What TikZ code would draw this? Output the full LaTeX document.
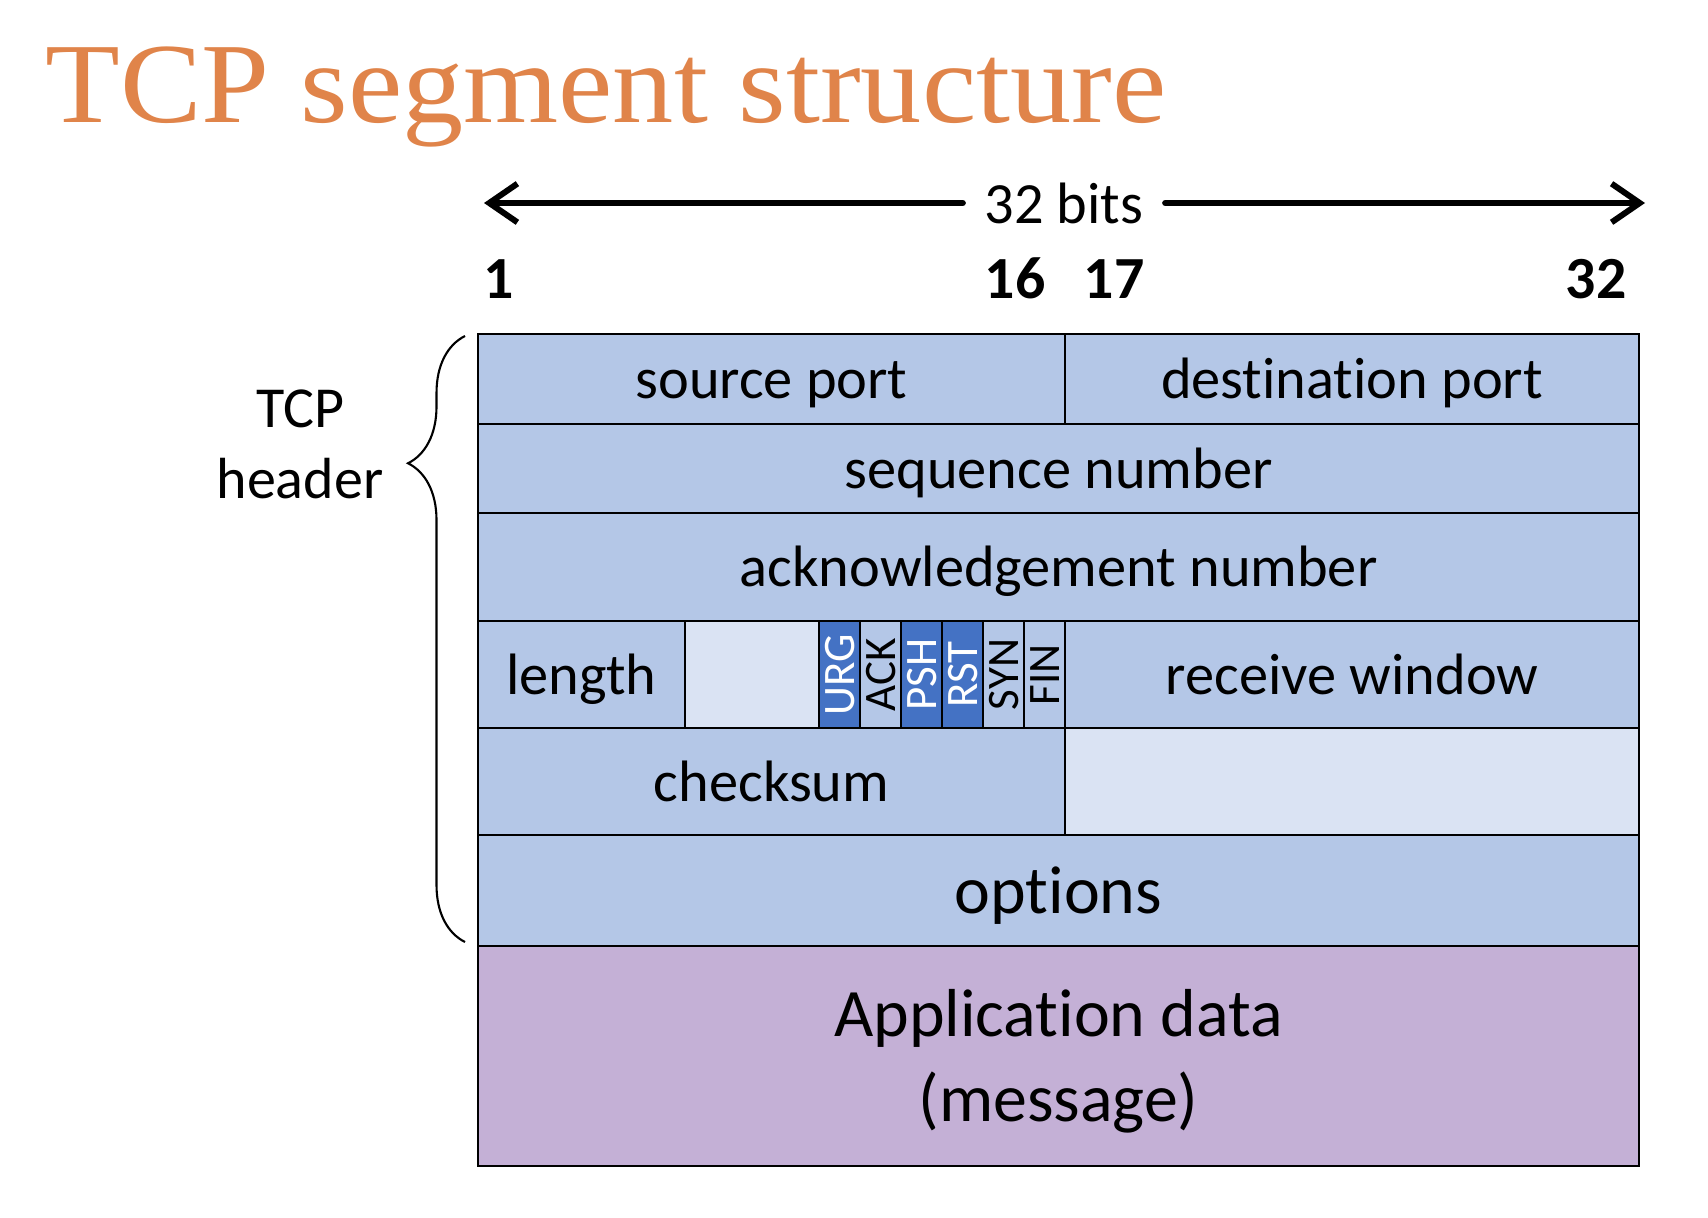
\documentclass[tikz,border=0pt]{standalone}
\usepackage{fontspec}
\setmainfont{Carlito}[Ligatures={NoCommon, NoContextual}]
\newfontfamily\titlefont{Liberation Serif}[FakeStretch=1.07]
\usetikzlibrary{positioning, arrows.meta, fit, decorations.pathreplacing}

\definecolor{cellblue}{HTML}{B4C7E7}
\definecolor{cellpale}{HTML}{DAE3F3}
\definecolor{flagblue}{HTML}{4472C4}
\definecolor{datapurple}{HTML}{C4B0D6}
\definecolor{titleorange}{HTML}{E0844A}

% strut giving the same line box as the slide text
\newcommand{\cstrut}{\rule[-0.27em]{0pt}{1.22em}}

\tikzset{
  field/.style={draw=black, line width=0.6pt, fill=cellblue, inner sep=0pt, outer sep=0pt},
  blank/.style={field, fill=cellpale},
  flagcell/.style={field, fill=#1},
  datafield/.style={field, fill=datapurple},
  celltext/.style={inner sep=0pt, font=\fontsize{16.6}{20}\selectfont, execute at begin node=\cstrut},
  flagtext/.style={inner sep=0pt, rotate=90, font=\fontsize{12.8}{15}\selectfont, execute at begin node=\cstrut},
  bittext/.style={inner sep=0pt, font=\fontsize{17}{20}\selectfont\bfseries, anchor=base},
  widtharrow/.style={line width=1.7pt, -{Straight Barb[length=8pt, width=11pt, line width=1.7pt]}, line cap=round}
}

\begin{document}
\begin{tikzpicture}[x=0.01cm, y=-0.01cm]
  \useasboundingbox (0,0) rectangle (1708,1218);

  % Title
  \node[anchor=base west, inner sep=0pt, text=titleorange, font=\titlefont\fontsize{32.5}{38}\selectfont] (title) at (45,122) {TCP segment structure};

  % 32 bits width arrow
  \node[anchor=base, inner xsep=0.21cm, inner ysep=0pt, font=\fontsize{16.6}{20}\selectfont] (bits) at (1064,223) {32 bits};
  \coordinate (bitsL) at (484,203);
  \coordinate (bitsR) at (1645,203);
  \draw[widtharrow] (bits.west |- bitsL) -- (bitsL);
  \draw[widtharrow] (bits.east |- bitsR) -- (bitsR);

  % Bit numbers
  \node[bittext] (bit1) at (499,298) {1};
  \node[bittext] (bit16) at (1015,298) {16};
  \node[bittext] (bit17) at (1114,298) {17};
  \node[bittext] (bit32) at (1596,298) {32};

  % Header rows
  \node[field, fit={(478,334) (1065,424)}, label={[celltext]center:source port}] (srcport) {};
  \node[field, fit={(1065,334) (1639,424)}, label={[celltext]center:destination port}] (dstport) {};
  \node[field, fit={(478,424) (1639,513)}, label={[celltext]center:sequence number}] (seqnum) {};
  \node[field, fit={(478,513) (1639,621)}, label={[celltext]center:acknowledgement number}] (acknum) {};
  \node[field, fit={(478,621) (685,728)}, label={[celltext]center:length}] (hdrlen) {};
  \node[blank, fit={(685,621) (819,728)}] (unused) {};

  % Flag bits
  \foreach \flag/\col/\txt [count=\i from 0] in {URG/flagblue/white, ACK/cellblue/black, PSH/flagblue/white, RST/flagblue/white, SYN/cellblue/black, FIN/cellblue/black}
    \node[flagcell=\col, fit={(819+41*\i,621) (860+41*\i,728)}, label={[flagtext, text=\txt]center:\flag}] (\flag) {};

  \node[field, fit={(1065,621) (1639,728)}, label={[celltext]center:receive window}] (rwnd) {};
  \node[field, fit={(478,728) (1065,835)}, label={[celltext]center:checksum}] (checksum) {};
  \node[blank, fit={(1065,728) (1639,835)}] (urgptr) {};
  \node[field, fit={(478,835) (1639,946)}, label={[celltext, font=\fontsize{19.3}{23}\selectfont]center:options}] (options) {};

  % Payload
  \node[datafield, fit={(478,946) (1639,1166)}] (appdata) {};
  \node[align=center, inner sep=0pt, font=\fontsize{19.3}{24.2}\selectfont] (appdatatext) at (appdata) {\cstrut Application data\\\cstrut(message)};

  % Header brace
  \coordinate (braceBot) at (465,942);
  \coordinate (braceTop) at (465,336);
  \draw[line width=0.6pt, decorate, decoration={brace, amplitude=16.2pt, aspect=0.79}] (braceBot) -- (braceTop);
  \node[align=center, inner sep=0pt, font=\fontsize{16.5}{20.2}\selectfont] (hdrlabel) at (300,443) {\cstrut TCP\\\cstrut header};

\end{tikzpicture}
\end{document}
